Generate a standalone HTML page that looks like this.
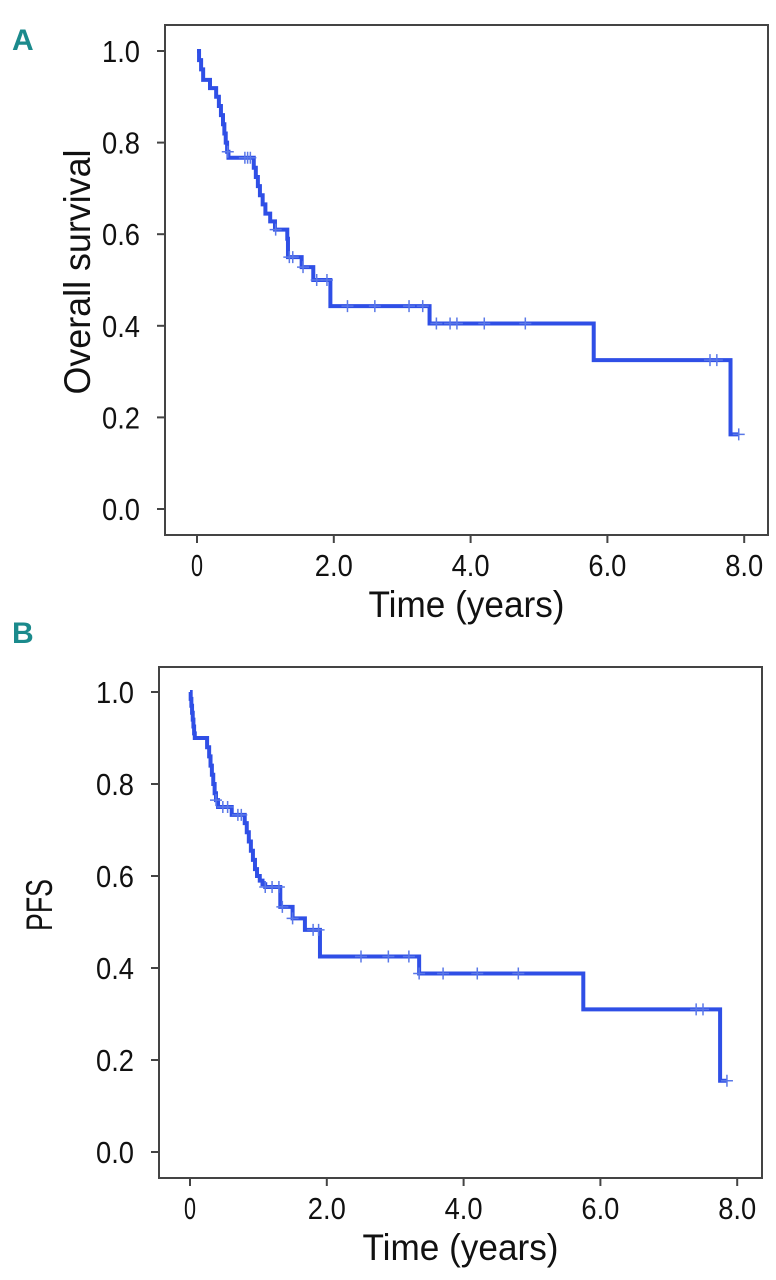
<!DOCTYPE html>
<html><head><meta charset="utf-8"><style>
body{margin:0;background:#fff;}
svg{display:block;font-family:"Liberation Sans",sans-serif;}
</style></head><body>
<svg id="s" width="776" height="1280"></svg>
<script>
// Panel A: overall survival
const aTimes=[0.03,0.06,0.09,0.19,0.28,0.32,0.35,0.38,0.40,0.42,0.44,0.46,0.83,0.86,0.89,0.92,0.96,1.0,1.07,1.14,1.32,1.33,1.53,1.70,1.95,3.40,5.80,7.80];
const aSurv=[0.98,0.96,0.937,0.919,0.90,0.88,0.86,0.84,0.82,0.80,0.78,0.767,0.745,0.725,0.705,0.685,0.665,0.645,0.628,0.61,0.59,0.55,0.528,0.50,0.443,0.405,0.325,0.163];
const aEnd=7.92;
const aCensor=[0.45,0.70,0.74,0.78,1.15,1.35,1.40,1.55,1.75,1.90,2.2,2.6,3.1,3.3,3.5,3.7,3.8,4.2,4.8,7.5,7.6,7.92];
// Panel B: PFS
const bTimes=[0.01,0.02,0.03,0.04,0.05,0.06,0.07,0.25,0.28,0.30,0.32,0.34,0.36,0.38,0.41,0.61,0.80,0.83,0.86,0.89,0.92,0.95,0.98,1.02,1.06,1.10,1.32,1.50,1.68,1.90,3.35,5.75,7.75];
const bSurv=[0.985,0.97,0.955,0.94,0.925,0.91,0.90,0.88,0.86,0.84,0.82,0.80,0.78,0.765,0.75,0.733,0.715,0.695,0.675,0.655,0.635,0.615,0.60,0.59,0.582,0.576,0.533,0.508,0.483,0.425,0.388,0.31,0.155];
const bEnd=7.85;
const bCensor=[0.38,0.48,0.55,0.70,0.75,1.10,1.20,1.30,1.35,1.50,1.80,1.88,2.5,2.9,3.2,3.35,3.7,4.2,4.8,7.4,7.5,7.85];
const xTicks=[0,2,4,6,8];
const xTickLabels=["0","2.0","4.0","6.0","8.0"];
const yTicks=[0,0.2,0.4,0.6,0.8,1.0];
const yTickLabels=["0.0","0.2","0.4","0.6","0.8","1.0"];

const NS="http://www.w3.org/2000/svg";
const svg=document.getElementById('s');
function mk(tag,attrs,parent){const e=document.createElementNS(NS,tag);for(const k in attrs)e.setAttribute(k,attrs[k]);(parent||svg).appendChild(e);return e;}

function panel(cfg){
  const g=mk('g',{});
  
  
  const X=t=>cfg.x0+cfg.xs*t, Y=v=>cfg.y0-cfg.ys*v;
  const box=mk('rect',{x:cfg.bl,y:cfg.bt,width:cfg.br-cfg.bl,height:cfg.bb-cfg.bt,fill:'none',stroke:'#444','stroke-width':2},g);
  
  
  xTicks.forEach((t,i)=>{
    mk('line',{x1:X(t),x2:X(t),y1:cfg.bb,y2:cfg.bb+8,stroke:'#444','stroke-width':2},g);
    const tx=mk('text',{x:X(t),y:cfg.bb+41,'font-size':31,'text-anchor':'middle',fill:'#111',textLength:xTickLabels[i].length>1?38:12,lengthAdjust:'spacingAndGlyphs'},g);
    tx.textContent=xTickLabels[i];
    
    
  });
  yTicks.forEach((v,i)=>{
    mk('line',{x1:cfg.bl-8,x2:cfg.bl,y1:Y(v),y2:Y(v),stroke:'#444','stroke-width':2},g);
    const tx=mk('text',{x:cfg.bl-25,y:Y(v)+11,'font-size':31,'text-anchor':'end',fill:'#111',textLength:38,lengthAdjust:'spacingAndGlyphs'},g);
    tx.textContent=yTickLabels[i];
    
    
  });
  const xt=mk('text',{x:(cfg.bl+cfg.br)/2,y:cfg.bb+82,'font-size':37,'text-anchor':'middle',fill:'#111',textLength:196,lengthAdjust:'spacingAndGlyphs'},g);
  xt.textContent='Time (years)';
  
  
  const yt=mk('text',{x:0,y:0,'font-size':37,'text-anchor':'middle',fill:'#111',textLength:cfg.ylen,lengthAdjust:'spacingAndGlyphs',transform:`translate(${cfg.ylx},${cfg.yly}) rotate(-90)`},g);
  yt.textContent=cfg.ylabel;
  
  
  const pl=mk('text',{x:12,y:cfg.ly,'font-size':30,'font-weight':'bold',fill:'#1b8a8c'},g);
  pl.textContent=cfg.letter;
  
  
  let d=`M${X(0)},${Y(1)}`;
  cfg.times.forEach((t,i)=>{d+=` H${X(t)} V${Y(cfg.surv[i])}`;});
  d+=` H${X(cfg.end)}`;
  const p=mk('path',{d:d,fill:'none',stroke:'#2f4fe6','stroke-width':4},g);
  
  
  function survAt(t){let v=1;cfg.times.forEach((tt,i)=>{if(tt<=t)v=cfg.surv[i];});return v;}
  cfg.censor.forEach(t=>{
    const v=survAt(t);
    const c=mk('path',{d:`M${X(t)-6},${Y(v)} H${X(t)+6} M${X(t)},${Y(v)-6} V${Y(v)+6}`,stroke:'#5a78e8','stroke-width':1.5,fill:'none'},g);
    
    
  });
}
panel({name:'panel-a-overall-survival',x0:197,xs:68.4,y0:509,ys:458,bl:165,br:768,bt:25,bb:535,times:aTimes,surv:aSurv,end:aEnd,censor:aCensor,ylabel:'Overall survival',ylen:245,ylx:90,yly:272,letter:'A',ly:50});
panel({name:'panel-b-pfs',x0:190,xs:68.4,y0:1152,ys:460,bl:159,br:762,bt:667,bb:1178,times:bTimes,surv:bSurv,end:bEnd,censor:bCensor,ylabel:'PFS',ylen:52,ylx:52,yly:905,letter:'B',ly:643});
</script>
</body></html>
